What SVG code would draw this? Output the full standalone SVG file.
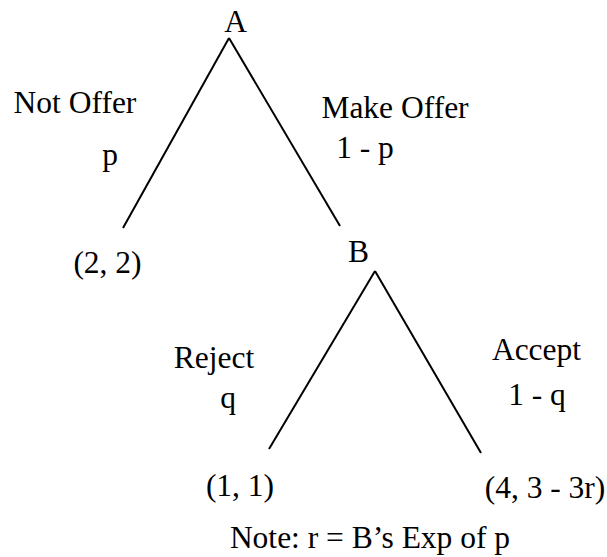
<svg xmlns="http://www.w3.org/2000/svg" width="607" height="557" viewBox="0 0 607 557">
<style>
text{font-family:"Liberation Serif","Times New Roman",serif;font-size:31.5px;fill:#000;text-anchor:middle}
line{stroke:#000;stroke-width:2;fill:none}
</style>
<rect width="607" height="557" fill="#fff"/>
<g id="connectors">
<line x1="229" y1="38" x2="123" y2="228"/>
<line x1="229" y1="38" x2="340" y2="226"/>
<line x1="375" y1="271" x2="269" y2="449"/>
<line x1="375" y1="271" x2="481" y2="453"/>
</g>
<g id="nodeA"><text x="235.5" y="32">A</text></g>
<g id="nodeB"><text x="358.5" y="262">B</text></g>
<g id="leaf22"><text x="107.5" y="273">(2, 2)</text></g>
<g id="leaf11"><text x="240" y="496">(1, 1)</text></g>
<g id="leaf43"><text x="545" y="498">(4, 3 - 3r)</text></g>
<g id="labels">
<text x="75" y="113">Not Offer</text>
<text x="110" y="165">p</text>
<text x="395" y="118">Make Offer</text>
<text x="365" y="158">1 - p</text>
<text x="214" y="368">Reject</text>
<text x="228" y="408">q</text>
<text x="536.5" y="360">Accept</text>
<text x="537" y="405">1 - q</text>
</g>
<g id="note"><text x="370" y="548">Note: r = B’s Exp of p</text></g>
</svg>
